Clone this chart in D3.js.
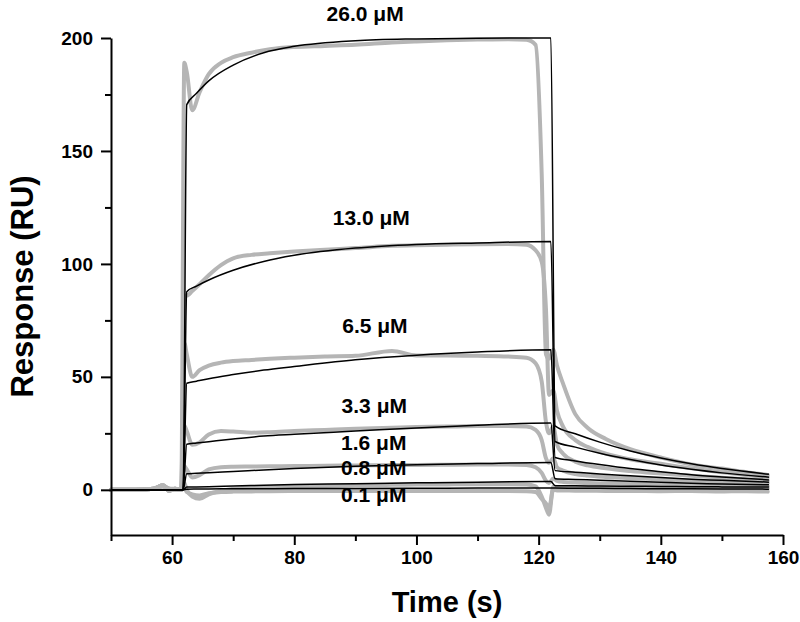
<!DOCTYPE html>
<html>
<head>
<meta charset="utf-8">
<script src="https://cdn.jsdelivr.net/npm/d3@7/dist/d3.min.js"></script>
<style>
  html, body { margin: 0; padding: 0; background: #fff; }
  svg { display: block; }
  text { font-family: "Liberation Sans", Arial, sans-serif; font-weight: bold; }
</style>
</head>
<body>
<svg id="chart" width="800" height="622"></svg>
<script>
// ---------- data ----------
const concentrations = ["26.0 μM", "13.0 μM", "6.5 μM", "3.3 μM", "1.6 μM", "0.8 μM", "0.1 μM"];

// fitted (black) curves, shared time grid (s)
const fitTime = [50, 61.8, 62.4, 64, 66, 70, 75, 80, 90, 100, 110, 122, 122.7, 126, 130, 135, 140, 145, 150, 157.7];
const fit26 = [0, 0, 170.5, 175.5, 181, 188, 193.5, 196.3, 198.8, 199.6, 199.9, 200, 28.3, 24.8, 21.1, 17.2, 14.1, 11.5, 9.4, 6.9];
const fit13 = [0, 0, 87.7, 90.2, 92.9, 97.2, 101.1, 103.8, 107.0, 108.6, 109.3, 109.9, 21.4, 18.9, 16.2, 13.4, 11.0, 9.1, 7.5, 5.6];
const fit65 = [0, 0, 47.2, 48.1, 49.2, 51.0, 53.0, 54.6, 57.6, 59.6, 61.0, 62.0, 14.3, 12.8, 11.2, 9.4, 8.0, 6.7, 5.7, 4.4];
const fit33 = [0, 0, 20.2, 20.7, 21.3, 22.5, 23.8, 24.6, 26.0, 27.4, 28.6, 29.6, 8.5, 7.8, 7.0, 6.2, 5.4, 4.7, 4.2, 3.4];
const fit16 = [0, 0, 7.1, 7.3, 7.6, 8.1, 8.8, 9.4, 10.4, 11.1, 11.6, 12.1, 4.9, 4.6, 4.2, 3.8, 3.3, 2.9, 2.6, 2.2];
const fit08 = [0, 0, 1.2, 1.3, 1.4, 1.7, 2.0, 2.3, 2.7, 3.1, 3.4, 3.7, 1.8, 1.75, 1.7, 1.6, 1.5, 1.4, 1.3, 1.2];
const fit01 = [0, 0, 0.3, 0.35, 0.4, 0.45, 0.5, 0.55, 0.6, 0.7, 0.75, 0.8, 0.75, 0.7, 0.65, 0.55, 0.5, 0.45, 0.4, 0.3];

// measured (grey) sensorgrams, shared time grid (s)
const dataTime = [50, 54, 57, 58.5, 59.5, 60.5, 61.5, 62.0, 62.4, 63.3, 64.5, 66, 68, 70, 73, 76, 80, 85, 90, 96, 100, 105, 110, 115, 118, 119.5, 120.5, 121.2, 121.7, 122.4, 123, 124, 126, 128, 131, 135, 140, 145, 150, 154, 157.5];
const data26 = [0, 0, 0.5, 1.5, 0.5, 0, 0, 189, 185, 168, 176, 184, 189, 191.5, 193.5, 195, 196, 196.5, 197, 198, 198.5, 199, 199.3, 199.5, 199.2, 197, 140, 60, 58, 62, 55, 47, 33.5, 27.5, 22.5, 18, 14.3, 11.2, 9.4, 7.8, 6.6];
const data13 = [0, 0, 0.5, 1.5, 0.5, 0, 0, 86, 86, 88, 91, 95, 99.5, 102.5, 104, 104.7, 105.5, 106.3, 107, 108, 108.3, 108.5, 108.7, 108.8, 108.5, 106, 101, 80, 42, 44, 35, 28, 22, 19, 16, 13.5, 11.5, 9.5, 7.8, 6.5, 5.5];
const data65 = [0, 0, 0.5, 2, 0.5, 0.5, 0, 65, 60, 50, 53, 55, 56.3, 57, 57.5, 58, 58.5, 59, 59.3, 61.5, 59.5, 59.5, 59.3, 59, 58.5, 56, 48, 30, 25, 28, 20, 16, 12.5, 10.8, 9.5, 8.3, 7.2, 6.2, 5.3, 4.6, 4.2];
const data33 = [0, 0, 0.5, 2, 0, 0.5, 0, 28.5, 26, 20, 21, 24.5, 26, 25.8, 25.3, 25.5, 26, 26.5, 27, 27.5, 27.8, 28, 28.2, 28.2, 28, 26.5, 22, 14, 12, 14, 10, 8.5, 7, 6.3, 5.7, 5.2, 4.6, 4, 3.5, 3.2, 3];
const data16 = [0, 0, 0.5, 2, -0.5, 0.5, 0, 10.5, 9, 5.5, 6.5, 9, 10, 10.2, 10.3, 10.4, 10.5, 10.7, 10.8, 11, 11, 11.1, 11.2, 11.2, 11, 10, 7.5, 4, 3, 5, 4, 3.5, 3.2, 3, 2.8, 2.6, 2.4, 2.2, 2, 1.8, 1.5];
const data08 = [0, 0, 0.5, 2, -0.5, 0.5, 0, 3, 0, -3, -4, -2, -0.5, 0.5, 1, 1.3, 1.5, 1.7, 2, 2.2, 2.3, 2.4, 2.5, 2.5, 2.4, 1.5, -3, -8, -11, 1.5, 1.3, 1.2, 1.1, 1, 0.9, 0.8, 0.7, 0.6, 0.6, 0.5, 0.5];
const data01 = [0, 0, 0.5, 2, -0.5, 0.5, 0, 1, -1, -2, -2.5, -1.5, -1, -0.8, -0.7, -0.6, -0.5, -0.5, -0.5, -0.5, -0.5, -0.5, -0.5, -0.5, -0.6, -1, -4, -6, -8, 0, -0.3, -0.3, -0.4, -0.4, -0.5, -0.5, -0.6, -0.5, -0.7, -0.6, -0.8];

const xMajorTicks = [60, 80, 100, 120, 140, 160];
const xMinorTicks = [50, 70, 90, 110, 130, 150];
const yMajorTicks = [0, 50, 100, 150, 200];
const yMinorTicks = [25, 75, 125, 175];

const fits = [fit26, fit13, fit65, fit33, fit16, fit08, fit01];
const datas = [data26, data13, data65, data33, data16, data08, data01];

// ---------- drawing ----------
const svg = d3.select("#chart");
const x = d3.scaleLinear().domain([50, 160]).range([111, 783]);
const y = d3.scaleLinear().domain([-20, 200]).range([535, 38]);

const line = d3.line()
  .x(d => x(d[0]))
  .y(d => y(d[1]))
  .curve(d3.curveMonotoneX);

// grey measured data
const gData = svg.append("g");
datas.forEach(vals => {
  gData.append("path")
    .attr("d", line(dataTime.map((t, i) => [t, vals[i]])))
    .attr("fill", "none")
    .attr("stroke", "#b5b5b5")
    .attr("stroke-width", 4)
    .attr("stroke-linejoin", "round")
    .attr("stroke-linecap", "round");
});

// black fits
const gFit = svg.append("g");
fits.forEach(vals => {
  gFit.append("path")
    .attr("d", line(fitTime.map((t, i) => [t, vals[i]])))
    .attr("fill", "none")
    .attr("stroke", "#000")
    .attr("stroke-width", 1.5)
    .attr("stroke-linejoin", "round");
});

// axes
function styleAxis(g) {
  g.select(".domain").attr("stroke", "#000").attr("stroke-width", 2);
  g.selectAll(".tick line").attr("stroke", "#000").attr("stroke-width", 2);
}
const xAxis = svg.append("g").attr("transform", `translate(0,${y(-20)})`)
  .call(d3.axisBottom(x).tickValues(xMajorTicks).tickSize(10).tickSizeOuter(0).tickPadding(6).tickFormat(d3.format("d")));
xAxis.call(styleAxis);
xAxis.selectAll(".tick text").attr("font-size", 19).attr("font-family", "Liberation Sans, Arial, sans-serif").attr("font-weight", "bold").attr("fill", "#000");
svg.append("g").attr("transform", `translate(0,${y(-20)})`)
  .call(d3.axisBottom(x).tickValues(xMinorTicks).tickSize(6).tickSizeOuter(0).tickFormat(""))
  .call(g => { g.select(".domain").remove(); g.selectAll(".tick line").attr("stroke", "#000").attr("stroke-width", 2); });

const yAxis = svg.append("g").attr("transform", `translate(${x(50)},0)`)
  .call(d3.axisLeft(y).tickValues(yMajorTicks).tickSize(10).tickSizeOuter(0).tickPadding(8).tickFormat(d3.format("d")));
yAxis.call(styleAxis);
yAxis.selectAll(".tick text").attr("font-size", 19).attr("font-family", "Liberation Sans, Arial, sans-serif").attr("font-weight", "bold").attr("fill", "#000");
svg.append("g").attr("transform", `translate(${x(50)},0)`)
  .call(d3.axisLeft(y).tickValues(yMinorTicks).tickSize(6).tickSizeOuter(0).tickFormat(""))
  .call(g => { g.select(".domain").remove(); g.selectAll(".tick line").attr("stroke", "#000").attr("stroke-width", 2); });

// axis titles
svg.append("text")
  .attr("x", (x(50) + x(160)) / 2).attr("y", 612)
  .attr("text-anchor", "middle").attr("font-size", 29).attr("fill", "#000")
  .text("Time (s)");
svg.append("text")
  .attr("transform", `translate(33,${(y(-20) + y(200)) / 2}) rotate(-90)`)
  .attr("text-anchor", "middle").attr("font-size", 31).attr("fill", "#000")
  .text("Response (RU)");

// concentration labels
const labelAnchors = [[91.6, 207.6], [92.6, 117.3], [93.2, 69.3], [93.1, 33.9], [93.0, 17.7], [93.0, 6.6], [93.0, -5.6]];
concentrations.forEach((c, i) => {
  svg.append("text")
    .attr("x", x(labelAnchors[i][0])).attr("y", y(labelAnchors[i][1]))
    .attr("text-anchor", "middle").attr("font-size", 21).attr("fill", "#000")
    .text(c);
});
</script>
</body>
</html>
